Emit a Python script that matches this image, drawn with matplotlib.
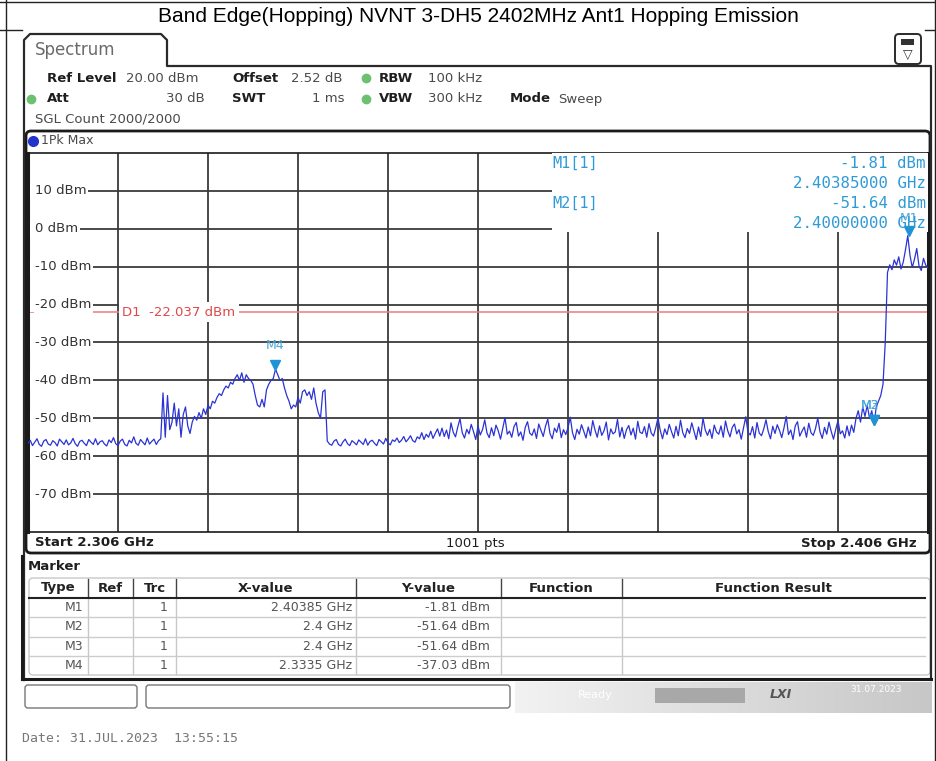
import numpy as np
import matplotlib.pyplot as plt
from matplotlib.patches import Rectangle, FancyBboxPatch
from matplotlib.transforms import ScaledTranslation

plt.rcParams['font.family'] = 'DejaVu Sans'

# sweep settings
start_ghz = 2.306
stop_ghz = 2.406
sweep_pts = 1001

# trace, 0.25 MHz steps, split in pieces
floor_left = [
    -56.6, -55.8, -57.2, -56.3, -55.4, -56.9, -57.4, -56.0, -55.6, -56.8,
    -57.1, -55.9, -56.4, -57.3, -55.5, -56.2, -56.9, -55.7, -57.0, -56.5,
    -55.3, -56.7, -57.4, -56.1, -55.8, -56.6, -57.2, -55.6, -56.3, -56.9,
    -55.4, -57.0, -56.2, -55.9, -56.8, -57.3, -55.7, -56.4, -55.1, -56.7,
    -57.2, -56.0, -55.5, -56.9, -57.3, -55.8, -56.5, -54.9, -56.6, -57.1,
    -55.6, -56.3, -57.0, -55.2, -56.8, -56.1, -55.5, -56.9, -55.9,
]
bursts = [
    -55.4, -43.3, -55.0, -44.0, -53.0, -51.0, -46.0, -52.0, -47.5, -55.0,
    -49.0, -47.0, -52.0, -54.0, -51.0, -49.5, -50.5, -48.5, -50.0, -47.5,
    -49.0,
]
hump = [
    -46.5, -47.5, -45.5, -46.0, -44.5, -43.5, -44.0, -42.5, -41.5, -42.0,
    -40.5, -41.0, -39.5, -38.5, -40.0, -38.0, -40.5, -38.5, -39.5, -40.0,
    -41.0, -44.0, -46.5, -47.0, -45.0, -47.0, -42.5, -41.0, -40.0, -39.5,
    -37.03, -38.5, -40.0, -39.5, -42.0, -44.0, -45.5, -47.5, -46.5, -47.0,
    -44.5, -46.0, -43.0, -42.5, -44.0, -43.0, -45.0, -42.0, -46.0, -48.5,
    -50.0, -43.0, -42.5, -56.0, -56.8,
]
floor_mid = [
    -57.1, -56.0, -55.6, -56.9, -57.3, -56.2, -55.5, -56.7, -57.2, -55.9,
    -56.4, -57.0, -55.7, -56.3, -56.9, -55.4, -57.1, -56.1, -55.8, -56.6,
    -57.2, -55.6, -56.2, -56.8, -55.3, -56.5, -57.0, -55.7, -56.1, -55.2,
    -56.4, -55.8, -54.8, -56.2, -55.5, -54.6, -55.9, -56.3, -54.9, -55.4,
    -53.8, -55.6, -54.2, -55.0, -53.4, -55.3, -54.0, -52.8, -54.7,
]
floor_right = [
    -52.6, -54.8, -53.1, -55.4, -51.2, -53.7, -54.9, -52.3, -50.1, -53.8,
    -55.2, -52.9, -54.1, -51.6, -53.5, -55.6, -52.0, -54.4, -53.0, -50.4,
    -53.9, -55.1, -52.5, -54.6, -51.8, -53.3, -55.5, -52.7, -49.8, -54.2,
    -53.4, -55.0, -52.2, -51.1, -54.7, -53.6, -55.8, -52.4, -50.9, -53.9,
    -54.5, -52.8, -55.3, -51.5, -53.2, -54.8, -52.1, -50.2, -54.0, -55.4,
    -52.6, -53.7, -51.3, -55.1, -53.0, -54.3, -52.5, -49.7, -53.8, -55.6,
    -52.9, -54.2, -51.7, -53.4, -55.2, -52.3, -54.6, -50.6, -53.1, -55.0,
    -52.0, -54.5, -53.3, -51.0, -55.7, -52.8, -54.1, -53.6, -50.3, -54.9,
    -52.4, -55.3, -53.0, -51.9, -54.4, -52.6, -55.5, -50.8, -53.7, -54.0,
    -52.2, -55.0, -51.4, -53.9, -54.7, -52.5, -49.9, -53.2, -55.4, -52.8,
    -54.3, -51.6, -53.5, -55.2, -52.1, -54.6, -50.5, -53.8, -55.1, -52.7,
    -54.0, -51.2, -53.4, -55.6, -52.3, -54.8, -50.0, -53.1, -54.5, -52.9,
    -55.3, -51.8, -53.6, -54.2, -52.0, -55.0, -50.7, -53.3, -54.9, -52.4,
    -51.5, -54.1, -53.0, -55.5, -52.6, -49.6, -53.7, -54.4, -52.2, -55.2,
    -51.1, -53.9, -54.6, -52.8, -50.4, -53.5, -55.4, -52.1, -54.0, -51.7,
    -53.2, -55.1, -52.5, -49.5, -54.3, -53.1, -55.6, -52.0, -50.9, -54.7,
    -53.4, -52.3, -55.0, -51.3, -53.8, -54.5, -52.7, -49.9, -53.6, -55.3,
    -52.4, -54.2, -51.0, -53.5, -55.5, -52.9, -50.6, -54.1, -53.3, -55.2,
    -52.0, -54.6, -51.8, -53.7,
]
band_edge = [
    -50.0, -48.0, -51.0, -47.0, -49.5, -46.5, -50.0, -48.0, -51.64, -47.0,
    -45.5, -44.0, -41.0, -30.0,
]
carrier = [
    -11.5, -9.5, -10.8, -8.2, -9.6, -7.4, -10.6, -8.8, -5.5, -1.81,
    -7.0, -10.2, -8.0, -5.2, -9.8, -11.0, -7.8, -9.6, -10.4,
]
trace_dbm = floor_left + bursts + hump + floor_mid + floor_right + band_edge + carrier
freq_ghz = np.linspace(start_ghz, stop_ghz, len(trace_dbm))

level_ticks = [10, 0, -10, -20, -30, -40, -50, -60, -70]
freq_grid = [2.316, 2.326, 2.336, 2.346, 2.356, 2.366, 2.376, 2.386, 2.396]
d1_dbm = -22.037

marker_names = ["M1", "M2", "M3", "M4"]
marker_ghz = [2.40385, 2.4, 2.4, 2.3335]
marker_dbm = [-1.81, -51.64, -51.64, -37.03]

W, H = 937, 761
fig = plt.figure(figsize=(W / 100, H / 100), dpi=100, facecolor="white")

# plot area (pixel box 28..928 x 153..532)
ax = fig.add_axes([28 / W, 1 - 532 / H, 900 / W, 379 / H])
ax.set_xlim(start_ghz, stop_ghz)
ax.set_ylim(-80, 20)
ax.set_xticks([])
ax.set_yticks([])
for s in ["left", "right"]:
    ax.spines[s].set_linewidth(2.2)
    ax.spines[s].set_color("#1a1a1a")
for s in ["top", "bottom"]:
    ax.spines[s].set_linewidth(1.2)
    ax.spines[s].set_color("#1a1a1a")

grid_c = "#3a3a3a"
for v in level_ticks:
    ax.axhline(v, color=grid_c, lw=1.3, zorder=1)
for f in freq_grid:
    ax.axvline(f, color=grid_c, lw=1.3, zorder=1)
ax.axhline(d1_dbm, color="#ee7a7a", lw=1.1, zorder=2)

# marker info box hides the grid in the top-right corner
ax.add_patch(Rectangle((2.3642, -0.8), 0.05, 25, facecolor="white",
                       edgecolor="none", zorder=3))

ax.plot(freq_ghz, trace_dbm, color="#2b33d4", lw=0.9, zorder=4)

mk_c = "#1f93d6"
lift = ScaledTranslation(0, 3 / 72, fig.dpi_scale_trans)
ax.plot(marker_ghz, marker_dbm, "v", color=mk_c, ms=7,
        transform=ax.transData + lift, zorder=6)
label_offsets = [(0, 8), (-3, 9), (-3, 9), (0, 12)]
for name, f, v, off in zip(marker_names, marker_ghz, marker_dbm, label_offsets):
    ax.annotate(name, (f, v), xytext=off, textcoords="offset points",
                ha="center", va="bottom", color="#48a6d8", fontsize=9, zorder=6)

# overlay in pixel coordinates
bg = fig.add_axes([0, 0, 1, 1], zorder=10)
bg.set_xlim(0, W)
bg.set_ylim(H, 0)
bg.axis("off")
bg.patch.set_alpha(0)

# outer report table frame
bg.plot([0, W], [1.5, 1.5], color="#222", lw=1)
bg.plot([6, 6], [0, H], color="#222", lw=1)
bg.plot([935, 935], [0, H], color="#222", lw=1)
bg.plot([0, 22], [30, 30], color="#222", lw=1)
bg.plot([925, W], [30, 30], color="#222", lw=1)
bg.text(478, 16, "Band Edge(Hopping) NVNT 3-DH5 2402MHz Ant1 Hopping Emission",
        family="Liberation Sans", fontsize=15, ha="center", va="center")

# instrument window outline and tab
bg.plot([24, 24, 30, 161, 167, 167, 931, 931], [680, 40, 34, 34, 40, 66, 66, 680],
        color="#2a2a2a", lw=1.6)
bg.text(35, 50, "Spectrum", fontsize=12, color="#6a6a6a", va="center")
bg.add_patch(FancyBboxPatch((895, 34), 26, 30, boxstyle="round,pad=0,rounding_size=4",
                            facecolor="white", edgecolor="#2a2a2a", lw=1.4))
bg.add_patch(Rectangle((901, 39), 13, 6, facecolor="#333", edgecolor="none"))
bg.text(908, 55, "\u25bd", fontsize=9, ha="center", va="center", color="#333")

# settings lines
dark, mid = "#1e1e1e", "#4a4a4a"
fs = 9.5
head = [
    ("Ref Level", 47, 78, "bold", dark, "left"), ("20.00 dBm", 126, 78, "normal", mid, "left"),
    ("Offset", 232, 78, "bold", dark, "left"), ("2.52 dB", 291, 78, "normal", mid, "left"),
    ("RBW", 379, 78, "bold", dark, "left"), ("100 kHz", 428, 78, "normal", mid, "left"),
    ("Att", 47, 99, "bold", dark, "left"), ("30 dB", 205, 99, "normal", mid, "right"),
    ("SWT", 232, 99, "bold", dark, "left"), ("1 ms", 345, 99, "normal", mid, "right"),
    ("VBW", 379, 99, "bold", dark, "left"), ("300 kHz", 428, 99, "normal", mid, "left"),
    ("Mode", 510, 99, "bold", dark, "left"), ("Sweep", 558, 99, "normal", mid, "left"),
    ("SGL Count 2000/2000", 35, 119, "normal", mid, "left"),
]
for t, x, y, w, c, ha in head:
    bg.text(x, y, t, fontsize=fs, fontweight=w, color=c, ha=ha, va="center")
bg.plot([366, 366, 31], [78, 99, 99], "o", color="#6cc070", ms=6, lw=0)

# trace panel frame
bg.add_patch(FancyBboxPatch((26, 131), 904, 422, boxstyle="round,pad=0,rounding_size=5",
                            facecolor="none", edgecolor="#1a1a1a", lw=2))
bg.plot([33], [141], "o", color="#2233cc", ms=7)
bg.text(41, 141, "1Pk Max", fontsize=9, color=mid, va="center")

# y labels sit on the grid lines with a white background
for v in level_ticks:
    py = 153 + (20 - v) * 3.79
    bg.add_patch(Rectangle((30.5, py - 7), 7, 14, facecolor="white", edgecolor="none"))
    bg.text(35, py, f"{v} dBm", fontsize=9.5, color="#333", va="center",
            bbox=dict(facecolor="white", edgecolor="none", pad=1.0))
py = 153 + (20 - d1_dbm) * 3.79
bg.text(122, py, "D1  -22.037 dBm", fontsize=9.5, color="#e04848", va="center",
        bbox=dict(facecolor="white", edgecolor="none", pad=2.5))

# marker readout
info_c = "#2f9ad8"
mono = "DejaVu Sans Mono"
bg.text(552, 163, "M1[1]", family=mono, fontsize=11, color=info_c, va="center")
bg.text(552, 203, "M2[1]", family=mono, fontsize=11, color=info_c, va="center")
readout = [f"{marker_dbm[0]:.2f} dBm", f"{marker_ghz[0]:.8f} GHz",
           f"{marker_dbm[1]:.2f} dBm", f"{marker_ghz[1]:.8f} GHz"]
for i, t in enumerate(readout):
    bg.text(926, 163 + 20 * i, t, family=mono, fontsize=11.3,
            color=info_c, ha="right", va="center")

bg.text(35, 543, f"Start {start_ghz} GHz", fontsize=9.5, fontweight="bold", color=dark, va="center")
bg.text(475, 543, f"{sweep_pts} pts", fontsize=9.5, color=dark, ha="center", va="center")
bg.text(917, 543, f"Stop {stop_ghz} GHz", fontsize=9.5, fontweight="bold", color=dark,
        ha="right", va="center")

# marker table
bg.plot([22, 22], [556, 679], color="#1a1a1a", lw=2.2)
bg.plot([22, 931], [679, 679], color="#1a1a1a", lw=2.2)
bg.text(28, 567, "Marker", fontsize=9.5, fontweight="bold", color=dark, va="center")
bg.add_patch(FancyBboxPatch((29, 578), 901, 97, boxstyle="round,pad=0,rounding_size=4",
                            facecolor="none", edgecolor="#c8c8c8", lw=1))
col_edges = [29, 88, 133, 176, 356, 501, 622, 925]
headers = ["Type", "Ref", "Trc", "X-value", "Y-value", "Function", "Function Result"]
for i, h in enumerate(headers):
    bg.text((col_edges[i] + col_edges[i + 1]) / 2, 588, h, fontsize=9.5,
            fontweight="bold", color="#222", ha="center", va="center")
for x in col_edges[1:-1]:
    bg.plot([x, x], [579, 597], color="#444", lw=1)
    bg.plot([x, x], [598, 674], color="#c8c8c8", lw=1)
bg.plot([29, 925], [598, 598], color="#222", lw=1.5)
for y in [617, 637, 656]:
    bg.plot([29, 925], [y, y], color="#cccccc", lw=1)
for i, name in enumerate(marker_names):
    y = 607.5 + 19.3 * i
    bg.text(83, y, name, fontsize=9, color="#555", ha="right", va="center")
    bg.text(168, y, "1", fontsize=9, color="#555", ha="right", va="center")
    bg.text(352, y, f"{marker_ghz[i]:g} GHz", fontsize=9, color="#555", ha="right", va="center")
    bg.text(490, y, f"{marker_dbm[i]:.2f} dBm", fontsize=9, color="#555", ha="right", va="center")

# status bar
grad = np.linspace(0.95, 0.78, 256).reshape(1, -1)
bg.imshow(np.dstack([grad, grad, grad]), extent=[515, 932, 713, 682], aspect="auto", zorder=0)
bg.add_patch(FancyBboxPatch((25, 685), 112, 23, boxstyle="round,pad=0,rounding_size=3",
                            facecolor="white", edgecolor="#777", lw=1))
bg.add_patch(FancyBboxPatch((146, 685), 364, 23, boxstyle="round,pad=0,rounding_size=3",
                            facecolor="white", edgecolor="#777", lw=1))
bg.text(578, 695, "Ready", fontsize=8, color="white", va="center")
bg.add_patch(Rectangle((655, 688), 90, 15, facecolor="#a8a8a8", edgecolor="none"))
bg.text(770, 695, "LXI", fontsize=9, fontweight="bold", fontstyle="italic", color="#555", va="center")
bg.text(850, 689, "31.07.2023", fontsize=6.5, color="white", va="center")

bg.text(22, 738, "Date: 31.JUL.2023  13:55:15", family=mono, fontsize=9.5,
        color="#777", va="center")

fig.savefig("out.png", dpi=100, facecolor="white")
